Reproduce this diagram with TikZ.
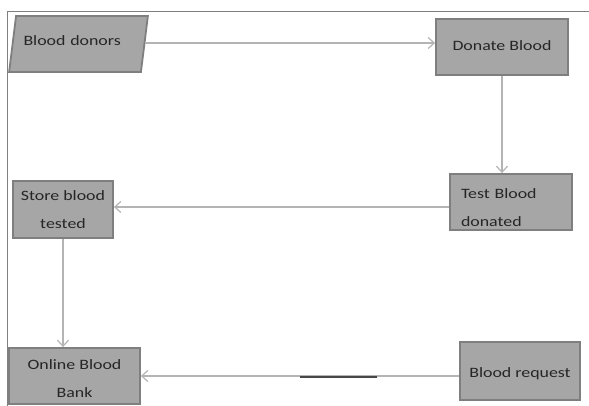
\documentclass[tikz,border=0pt]{standalone}
\usepackage{fontspec}
\setmainfont{Carlito}[FakeStretch=1.25]
\usepackage{tikz}
\usetikzlibrary{arrows.meta, shapes.geometric, positioning}
\definecolor{boxfill}{HTML}{A6A6A6}
\definecolor{boxline}{HTML}{7F7F7F}
\definecolor{flowline}{HTML}{B4B4B4}
\definecolor{textcol}{HTML}{262626}

\begin{document}
\begin{tikzpicture}[x=1pt, y=-1pt,
        stepbox/.style={draw=boxline, line width=1.8pt, fill=boxfill, text=textcol,
            font=\fontsize{14.3}{28}\selectfont, inner sep=0pt},
        flow/.style={draw=flowline, line width=1.2pt, -{Straight Barb[length=6pt, width=11pt]}}]
            \useasboundingbox (0,0) rectangle (589,406);
            \draw[boxline, line width=0.9pt] (589,11) -- (7,11) -- (7,406);

            \node(donors)[stepbox, trapezium, trapezium left angle=70, trapezium right angle=110,
                trapezium stretches=true, minimum width=139pt, minimum height=56pt,
                text width=110pt, align=left] at (78.5,44) {\raisebox{7pt}{Blood donors}};
            \node(donate)[stepbox, minimum width=132pt, minimum height=56pt] at (502,47) {\raisebox{3pt}{Donate Blood}};
            \node(test)[stepbox, minimum height=56pt, text width=100pt, inner xsep=11pt, align=left] at (511,202) {\rule{0pt}{22pt}Test Blood\\donated};
            \node(store)[stepbox, minimum width=100pt, minimum height=57pt, align=center] at (63,209.5) {Store blood\\tested};
            \node(online)[stepbox, minimum width=131pt, minimum height=56pt, align=center] at (74.5,376) {\rule{0pt}{16pt}Online Blood\\Bank};
            \node(request)[stepbox, minimum width=120pt, minimum height=58pt] at (520,371) {\rule{0pt}{16pt}Blood request};

            \draw[flow] (donors.east |- 0,43) -- (donate.west |- 0,43);
            \draw[flow] (donate.south) -- (donate.south |- test.north);
            \draw[flow] (test.west |- 0,207) -- (store.east |- 0,207);
            \draw[flow] (store.south) -- (store.south |- online.north);
            \draw[flow] (request.west |- online.east) -- (online.east);
            \coordinate (mark_a) at (300,377);
            \coordinate (mark_b) at (377,377);
            \draw[textcol!85, line width=1.4pt] (mark_a) -- (mark_b);
        \end{tikzpicture}
\end{document}
